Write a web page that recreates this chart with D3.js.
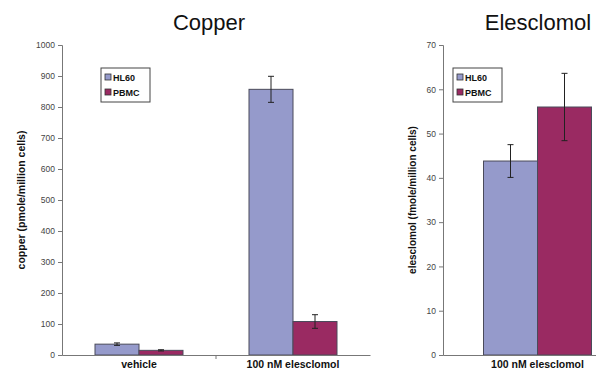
<!DOCTYPE html>
<html>
<head>
<meta charset="utf-8">
<script src="https://cdn.jsdelivr.net/npm/d3@7"></script>
<style>
  body { margin: 0; background: #fff; }
  svg { display: block; font-family: Arial, "Liberation Sans", sans-serif; }
</style>
</head>
<body>
<div id="chart"></div>
<script>
// Data
const seriesNames = ["HL60", "PBMC"];
const seriesColors = ["#959acb", "#9a2a62"];

const copperCategories = ["vehicle", "100 nM elesclomol"];
const copperHL60 = [35, 857];
const copperHL60Err = [4, 42];
const copperPBMC = [15, 108];
const copperPBMCErr = [2, 22];
const copperTicks = [0, 100, 200, 300, 400, 500, 600, 700, 800, 900, 1000];

const elescCategories = ["100 nM elesclomol"];
const elescHL60 = [43.8];
const elescHL60Err = [3.7];
const elescPBMC = [56.0];
const elescPBMCErr = [7.6];
const elescTicks = [0, 10, 20, 30, 40, 50, 60, 70];

const svg = d3.select("#chart")
    .append("svg")
    .attr("width", 596)
    .attr("height", 372);

function drawPanel(opts) {
    const g = svg.append("g");
    const { x0, x1, yTop, yBottom } = opts;

    const x = d3.scaleBand()
        .domain(opts.categories)
        .range([x0, x1]);

    const y = d3.scaleLinear()
        .domain([0, opts.max])
        .range([yBottom, yTop]);

    // Excel gap width 150%: band = 2 bars + 1.5 bar
    const groupWidth = x.bandwidth() * 2 / 3.5;
    const sub = d3.scaleBand()
        .domain(seriesNames)
        .range([0, groupWidth]);

    const rows = opts.categories.map((c, i) => ({
        cat: c,
        vals: [
            { s: "HL60", v: opts.hl60[i], e: opts.hl60Err[i], color: seriesColors[0] },
            { s: "PBMC", v: opts.pbmc[i], e: opts.pbmcErr[i], color: seriesColors[1] }
        ]
    }));

    // Bars
    rows.forEach(r => {
        const gx = x(r.cat) + (x.bandwidth() - groupWidth) / 2;
        r.vals.forEach(d => {
            g.append("rect")
                .attr("x", gx + sub(d.s))
                .attr("y", y(d.v))
                .attr("width", sub.bandwidth())
                .attr("height", y(0) - y(d.v))
                .attr("fill", d.color)
                .attr("stroke", "#4a4a5a")
                .attr("stroke-width", 1);
        });
        // Error bars
        r.vals.forEach(d => {
            const cx = gx + sub(d.s) + sub.bandwidth() / 2;
            g.append("line")
                .attr("x1", cx).attr("x2", cx)
                .attr("y1", y(d.v + d.e)).attr("y2", y(d.v - d.e))
                .attr("stroke", "#222").attr("stroke-width", 1);
            [d.v + d.e, d.v - d.e].forEach(val => {
                g.append("line")
                    .attr("x1", cx - 3).attr("x2", cx + 3)
                    .attr("y1", y(val)).attr("y2", y(val))
                    .attr("stroke", "#222").attr("stroke-width", 1);
            });
        });
    });

    // Y axis
    const yAxis = g.append("g")
        .attr("transform", `translate(${x0},0)`)
        .call(d3.axisLeft(y).tickValues(opts.ticks).tickFormat(d3.format("d")).tickSize(4).tickPadding(3));
    yAxis.select(".domain").attr("stroke", "#777");
    yAxis.selectAll(".tick line").attr("stroke", "#777");
    yAxis.selectAll("text")
        .attr("fill", "#444")
        .style("font-size", "8.5px")
        .style("font-family", "Arial, 'Liberation Sans', sans-serif");

    // X axis
    const xAxis = g.append("g")
        .attr("transform", `translate(0,${yBottom})`)
        .call(d3.axisBottom(x).tickSize(0).tickPadding(6));
    xAxis.select(".domain").attr("stroke", "#777");
    xAxis.selectAll("text")
        .attr("fill", "#111")
        .style("font-size", "10.5px")
        .style("font-weight", "bold")
        .style("font-family", "Arial, 'Liberation Sans', sans-serif");
    // category divider ticks
    opts.categories.slice(1).forEach(c => {
        g.append("line")
            .attr("x1", x(c)).attr("x2", x(c))
            .attr("y1", yBottom).attr("y2", yBottom + 4)
            .attr("stroke", "#777");
    });

    // Y label
    g.append("text")
        .attr("transform", `translate(${opts.labelX},${(yTop + yBottom) / 2}) rotate(-90)`)
        .attr("text-anchor", "middle")
        .style("font-size", opts.labelSize)
        .style("font-weight", "bold")
        .attr("fill", "#111")
        .text(opts.yLabel);

    // Title
    g.append("text")
        .attr("x", opts.titleX)
        .attr("y", 30)
        .attr("text-anchor", "middle")
        .style("font-size", "22px")
        .attr("fill", "#111")
        .text(opts.title);

    // Legend
    const lg = g.append("g").attr("transform", `translate(${opts.legendX},68)`);
    lg.append("rect")
        .attr("width", 49).attr("height", 34)
        .attr("fill", "#fff")
        .attr("stroke", "#444").attr("stroke-width", 1);
    seriesNames.forEach((s, i) => {
        lg.append("rect")
            .attr("x", 4).attr("y", 6 + i * 15)
            .attr("width", 6).attr("height", 6)
            .attr("fill", seriesColors[i])
            .attr("stroke", "#333").attr("stroke-width", 0.8);
        lg.append("text")
            .attr("x", 12).attr("y", 12.5 + i * 15)
            .style("font-size", "9px")
            .style("font-weight", "bold")
            .attr("fill", "#111")
            .text(s);
    });
}

drawPanel({
    categories: copperCategories,
    hl60: copperHL60, hl60Err: copperHL60Err,
    pbmc: copperPBMC, pbmcErr: copperPBMCErr,
    ticks: copperTicks, max: 1000,
    x0: 62, x1: 370, yTop: 45, yBottom: 355,
    yLabel: "copper (pmole/million cells)", labelX: 25, labelSize: "10.5px",
    title: "Copper", titleX: 209, legendX: 101
});

drawPanel({
    categories: elescCategories,
    hl60: elescHL60, hl60Err: elescHL60Err,
    pbmc: elescPBMC, pbmcErr: elescPBMCErr,
    ticks: elescTicks, max: 70,
    x0: 443, x1: 632, yTop: 45, yBottom: 355,
    yLabel: "elesclomol (fmole/million cells)", labelX: 416, labelSize: "10px",
    title: "Elesclomol", titleX: 538, legendX: 453
});
</script>
</body>
</html>
